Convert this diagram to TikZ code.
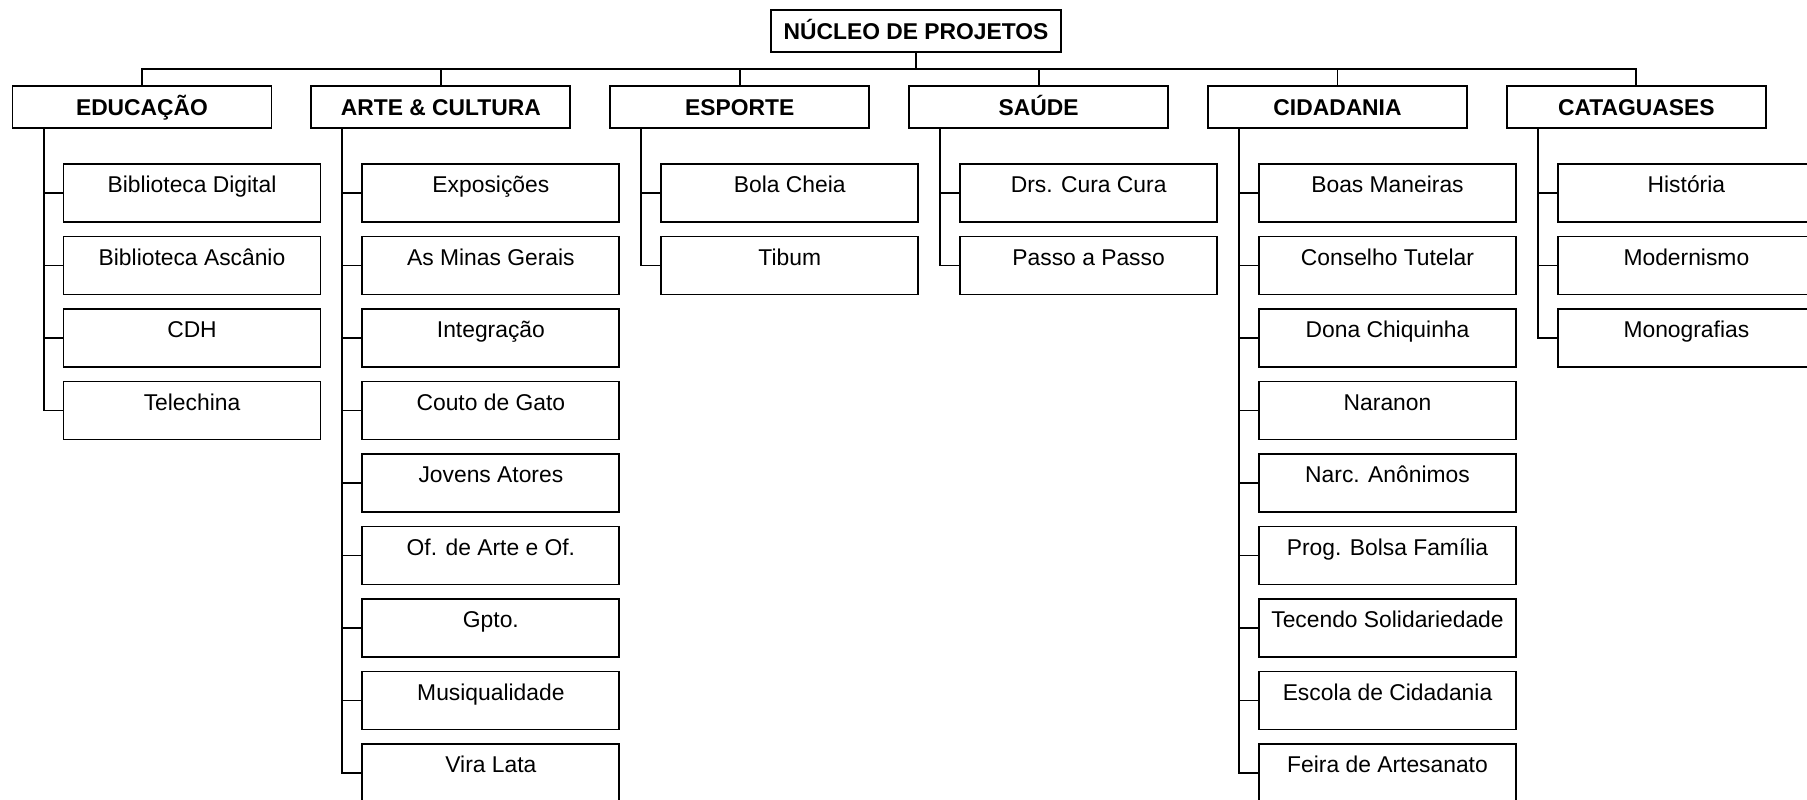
\documentclass[tikz,border=0pt]{standalone}
\usepackage{fontspec}
\setmainfont{Liberation Sans}
\usetikzlibrary{positioning, calc}

\begin{document}
\begin{tikzpicture}[
    x=0.02cm, y=-0.02cm,
    line width=1.1pt,
    topbox/.style={rectangle, draw, minimum width=5.8cm, inner sep=0pt,
                   text height=0.58cm, text depth=0.26cm,
                   font=\fontsize{13}{15.6}\selectfont\bfseries},
    headbox/.style={rectangle, draw, minimum width=5.18cm, inner sep=0pt,
                    text height=0.58cm, text depth=0.26cm,
                    font=\fontsize{13}{15.6}\selectfont\bfseries},
    itembox/.style={rectangle, draw, minimum width=5.14cm, inner sep=0pt,
                    text height=0.58cm, text depth=0.58cm,
                    font=\fontsize{13}{15.6}\selectfont}
]
    \clip (0,0) rectangle (1807,799);

    \node[topbox] (nucleo) at (916,31) {NÚCLEO DE PROJETOS};

    \node[headbox] (edu) at (142,107) {EDUCAÇÃO};
    \node[headbox, right=0.76cm of edu] (arte) {ARTE \& CULTURA};
    \node[headbox, right=0.76cm of arte] (esporte) {ESPORTE};
    \node[headbox, right=0.76cm of esporte] (saude) {SAÚDE};
    \node[headbox, right=0.76cm of saude] (cidadania) {CIDADANIA};
    \node[headbox, right=0.76cm of cidadania] (cata) {CATAGUASES};

    % bus under the top box
    \coordinate (bus) at ($(nucleo.south)!0.5!(nucleo.south |- edu.north)$);
    \draw (nucleo.south) -- (bus);
    \draw (edu.north) -- (edu.north |- bus) -- (cata.north |- bus) -- (cata.north);
    \foreach \h in {arte, esporte, saude, cidadania}
        \draw (\h.north) -- (\h.north |- bus);

    % projects of each area
    \foreach \h/\items in {
        edu/{Biblioteca Digital, Biblioteca Ascânio, CDH, Telechina},
        arte/{Exposições, As Minas Gerais, Integração, Couto de Gato, Jovens Atores,
              Of. de Arte e Of., Gpto., Musiqualidade, Vira Lata},
        esporte/{Bola Cheia, Tibum},
        saude/{Drs. Cura Cura, Passo a Passo},
        cidadania/{Boas Maneiras, Conselho Tutelar, Dona Chiquinha, Naranon,
                   Narc. Anônimos, Prog. Bolsa Família, Tecendo Solidariedade,
                   Escola de Cidadania, Feira de Artesanato},
        cata/{História, Modernismo, Monografias}}
    {
        \foreach \txt [count=\k] in \items {
            \node[itembox, anchor=west] (\h-\k)
                at ($(\h.south west)+(51,{64+72.5*(\k-1)})$) {\txt};
            \draw ($(\h.south west)+(32,0)$) |- (\h-\k.west);
        }
    }
\end{tikzpicture}
\end{document}
